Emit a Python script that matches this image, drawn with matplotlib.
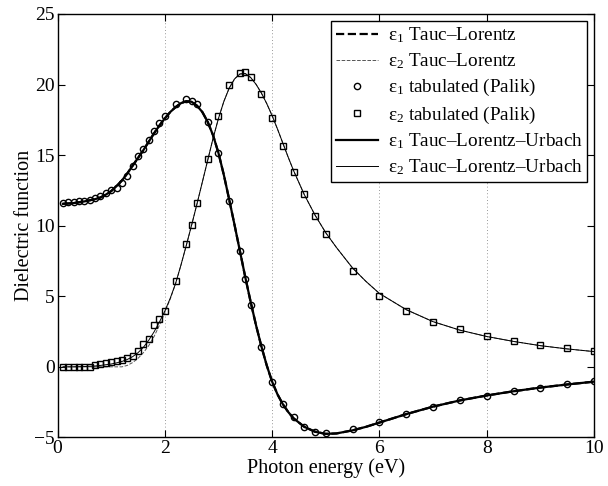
import numpy as np
import matplotlib
matplotlib.use("Agg")
import matplotlib.pyplot as plt

plt.rcParams['font.family'] = ['Liberation Serif', 'DejaVu Serif']
plt.rcParams['mathtext.fontset'] = 'stix'

# ----Tabulated data (Palik)----
E_tab = [0.1, 0.2, 0.3, 0.4, 0.5, 0.6, 0.7, 0.8, 0.9, 1.0,
         1.1, 1.2, 1.3, 1.4, 1.5, 1.6, 1.7, 1.8, 1.9, 2.0,
         2.2, 2.4, 2.5, 2.6, 2.8, 3.0, 3.2, 3.4, 3.5, 3.6,
         3.8, 4.0, 4.2, 4.4, 4.6, 4.8, 5.0, 5.5, 6.0, 6.5,
         7.0, 7.5, 8.0, 8.5, 9.0, 9.5, 10.0]
eps1_tab = [11.62, 11.65, 11.68, 11.72, 11.78, 11.85, 11.95, 12.1, 12.3, 12.5,
            12.7, 13.05, 13.55, 14.25, 14.95, 15.45, 16.1, 16.7, 17.3, 17.75,
            18.6, 19.0, 18.82, 18.6, 17.38, 15.15, 11.75, 8.2, 6.2, 4.4,
            1.37, -1.07, -2.62, -3.57, -4.23, -4.6, -4.72, -4.42, -3.92, -3.33,
            -2.84, -2.38, -2.08, -1.74, -1.48, -1.23, -1.03]
eps2_tab = [0.02, 0.02, 0.02, 0.02, 0.02, 0.02, 0.1, 0.17, 0.26, 0.33,
            0.4, 0.5, 0.61, 0.8, 1.09, 1.63, 1.94, 2.98, 3.4, 3.95,
            6.08, 8.72, 10.07, 11.58, 14.75, 17.78, 19.95, 20.83, 20.87, 20.55,
            19.36, 17.64, 15.62, 13.8, 12.22, 10.69, 9.39, 6.8, 5.04, 3.99,
            3.21, 2.67, 2.18, 1.82, 1.54, 1.3, 1.11]

# ----Model curves----
E_fit = [0.1, 0.3, 0.5, 0.7, 0.8, 0.9, 1.0, 1.1, 1.2, 1.3,
         1.4, 1.5, 1.6, 1.7, 1.8, 1.9, 2.0, 2.1, 2.2, 2.3,
         2.4, 2.5, 2.6, 2.7, 2.8, 2.9, 3.0, 3.1, 3.2, 3.3,
         3.4, 3.5, 3.6, 3.7, 3.8, 3.9, 4.0, 4.1, 4.2, 4.3,
         4.4, 4.6, 4.8, 5.0, 5.2, 5.5, 5.75, 6.0, 6.5, 7.0,
         7.5, 8.0, 8.5, 9.0, 9.5, 10.0]
eps1_tlu = [11.55, 11.6, 11.72, 11.88, 12.0, 12.2, 12.45, 12.8, 13.2, 13.7,
            14.25, 14.8, 15.35, 15.95, 16.55, 17.1, 17.6, 18.05, 18.4, 18.68,
            18.82, 18.78, 18.5, 18.05, 17.35, 16.4, 15.15, 13.6, 11.85, 10.05,
            8.2, 6.35, 4.6, 2.95, 1.45, 0.1, -1.05, -1.95, -2.65, -3.2,
            -3.65, -4.25, -4.6, -4.75, -4.72, -4.5, -4.25, -3.95, -3.35, -2.82,
            -2.38, -2.03, -1.73, -1.47, -1.25, -1.05]
eps2_tlu = [0.0, 0.0, 0.02, 0.06, 0.1, 0.15, 0.2, 0.28, 0.38, 0.52,
            0.72, 1.0, 1.38, 1.88, 2.48, 3.18, 3.95, 4.85, 5.9, 7.2,
            8.6, 10.05, 11.55, 13.1, 14.65, 16.2, 17.6, 18.8, 19.75, 20.4,
            20.75, 20.78, 20.5, 20.02, 19.4, 18.65, 17.8, 16.85, 15.85, 14.85,
            13.9, 12.2, 10.75, 9.5, 8.45, 7.0, 6.05, 5.2, 4.05, 3.2,
            2.6, 2.15, 1.8, 1.5, 1.27, 1.08]
eps2_tl = [0.0, 0.0, 0.0, 0.0, 0.0, 0.0, 0.0, 0.0, 0.0, 0.1,
           0.3, 0.6, 1.0, 1.5, 2.15, 2.95, 3.85, 4.8, 5.88, 7.2,
           8.6, 10.05, 11.55, 13.1, 14.65, 16.2, 17.6, 18.8, 19.75, 20.4,
           20.75, 20.78, 20.5, 20.02, 19.4, 18.65, 17.8, 16.85, 15.85, 14.85,
           13.9, 12.2, 10.75, 9.5, 8.45, 7.0, 6.05, 5.2, 4.05, 3.2,
           2.6, 2.15, 1.8, 1.5, 1.27, 1.08]

fig = plt.figure(figsize=(6.08, 4.86), dpi=100)
ax = fig.add_axes([0.0946, 0.1, 0.8824, 0.8712])

e1 = r'$\mathregular{ε_1}$'
e2 = r'$\mathregular{ε_2}$'
ax.plot(E_fit, eps1_tlu, '--', color='k', lw=1.6, label=e1 + ' Tauc–Lorentz')
ax.plot(E_fit, eps2_tl, '--', color='#555555', lw=0.7, label=e2 + ' Tauc–Lorentz')
ax.plot(E_tab, eps1_tab, 'o', ms=4.5, mfc='none', mec='k', mew=1.0, label=e1 + ' tabulated (Palik)')
ax.plot(E_tab, eps2_tab, 's', ms=4, mfc='none', mec='k', mew=1.0, label=e2 + ' tabulated (Palik)')
ax.plot(E_fit, eps1_tlu, '-', color='k', lw=1.6, label=e1 + ' Tauc–Lorentz–Urbach')
ax.plot(E_fit, eps2_tlu, '-', color='k', lw=0.7, label=e2 + ' Tauc–Lorentz–Urbach')

ax.set_xlim(0, 10)
ax.set_ylim(-5, 25)
ax.set_xticks([0, 2, 4, 6, 8, 10])
ax.set_yticks([-5, 0, 5, 10, 15, 20, 25])
ax.set_yticklabels(['\u22125', '0', '5', '10', '15', '20', '25'])
ax.xaxis.grid(True, linestyle=(0, (1, 3)), color='#777777', lw=0.6)
ax.tick_params(direction='in', top=True, right=True, length=5, width=0.8, labelsize=14, pad=2)
for s in ax.spines.values():
    s.set_linewidth(1.0)

ax.set_xlabel('Photon energy (eV)', fontsize=14.5, labelpad=1)
ax.set_ylabel('Dielectric function', fontsize=14.5, labelpad=0)

leg = ax.legend(loc='upper right', fontsize=13.8, fancybox=False, edgecolor='k',
                framealpha=1, borderaxespad=0.35, handlelength=2.2, labelspacing=0.32,
                borderpad=0.25, handletextpad=0.5)
leg.get_frame().set_linewidth(1.0)

plt.savefig('out.png', dpi=100)
